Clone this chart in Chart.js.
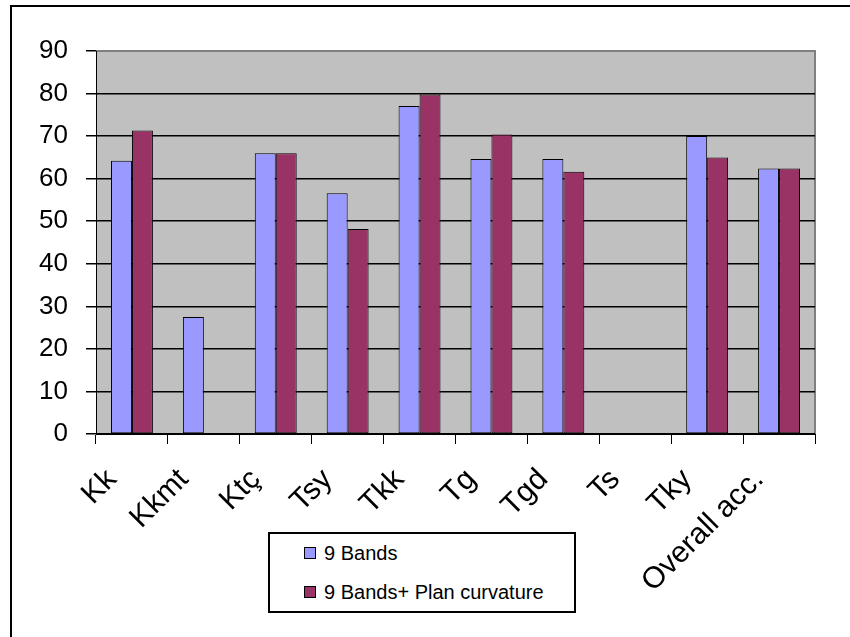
<!DOCTYPE html>
<html>
<head>
<meta charset="utf-8">
<script src="https://cdn.jsdelivr.net/npm/chart.js@4/dist/chart.umd.min.js"></script>
<style>
  html, body { margin: 0; padding: 0; background: #fff; }
  #wrap { position: relative; width: 850px; height: 637px; overflow: hidden; background: #fff; }
  #frame { position: absolute; left: 10px; top: 5px; width: 900px; height: 700px;
           border-left: 2px solid #000; border-top: 2px solid #000; box-sizing: border-box; }
  canvas { position: absolute; left: 0; top: 0; }
  #legend { position: absolute; left: 268px; top: 532px; width: 308px; height: 81px;
            border: 2px solid #000; box-sizing: border-box; background: #fff;
            font-family: "Liberation Sans", Arial, sans-serif; font-size: 20px; color: #000; }
  .item { position: absolute; left: 34px; height: 24px; line-height: 24px; white-space: nowrap; }
  .sw { display: inline-block; width: 10px; height: 10px; border: 1px solid #000;
        vertical-align: middle; margin-right: 8px; position: relative; top: -2px; }
</style>
</head>
<body>
<div id="wrap">
  <canvas id="chart" width="850" height="637"></canvas>
  <div id="frame"></div>
  <div id="legend"></div>
</div>
<script>
// Accuracy per class, two band configurations
const categories = ['Kk', 'Kkmt', 'Ktç', 'Tsy', 'Tkk', 'Tg', 'Tgd', 'Ts', 'Tky', 'Overall acc.'];
const bands9 = [64.2, 27.5, 66.0, 56.6, 77.1, 64.6, 64.6, null, 70.0, 62.4];
const bands9Plan = [71.3, null, 66.0, 48.2, 79.8, 70.4, 61.6, null, 65.0, 62.4];
const seriesNames = ['9 Bands', '9 Bands+ Plan curvature'];
const seriesColors = ['#9999FF', '#993366'];
const yTicks = [0, 10, 20, 30, 40, 50, 60, 70, 80, 90];

const FONT = "'Liberation Sans', Arial, sans-serif";

// Grey plot area with a darker edge on top and right
const plotBackground = {
  id: 'plotBackground',
  beforeDraw(chart) {
    const { ctx, chartArea: a } = chart;
    ctx.save();
    ctx.fillStyle = '#C0C0C0';
    ctx.fillRect(a.left, a.top, a.right - a.left, a.bottom - a.top);
    ctx.strokeStyle = '#808080';
    ctx.lineWidth = 2;
    ctx.beginPath();
    ctx.moveTo(a.left, a.top);
    ctx.lineTo(a.right, a.top);
    ctx.lineTo(a.right, a.bottom);
    ctx.stroke();
    ctx.restore();
  }
};

new Chart(document.getElementById('chart'), {
  type: 'bar',
  data: {
    labels: categories,
    datasets: [
      { label: seriesNames[0], data: bands9, backgroundColor: seriesColors[0] },
      { label: seriesNames[1], data: bands9Plan, backgroundColor: seriesColors[1] }
    ].map(d => Object.assign(d, {
      borderColor: '#000', borderWidth: 1, borderSkipped: false,
      categoryPercentage: 0.583, barPercentage: 1
    }))
  },
  options: {
    responsive: false,
    animation: false,
    devicePixelRatio: 1,
    layout: { padding: { top: 51, right: 35, bottom: 0, left: 0 } },
    plugins: { legend: { display: false }, tooltip: { enabled: false } },
    scales: {
      x: {
        grid: { drawOnChartArea: false, drawTicks: true, tickLength: 10, color: '#000', lineWidth: 1 },
        border: { display: true, color: '#000', width: 1 },
        ticks: { minRotation: 45, maxRotation: 45, autoSkip: false, color: '#000',
                 font: { family: FONT, size: 30 }, padding: 18, labelOffset: -20 },
        afterFit(s) { s.height = 203; }
      },
      y: {
        min: 0, max: 90,
        afterBuildTicks(s) { s.ticks = yTicks.map(v => ({ value: v })); },
        grid: {
          color: c => (c.tick && c.tick.value === 90) ? 'rgba(0,0,0,0)' : '#000',
          tickColor: '#000', lineWidth: 1.5, tickLength: 10, drawTicks: true
        },
        border: { display: true, color: '#000', width: 1 },
        ticks: { color: '#000', font: { family: FONT, size: 26 }, padding: 18 },
        afterFit(s) { s.width = 96; }
      }
    }
  },
  plugins: [plotBackground]
});

// Legend box
const legend = document.getElementById('legend');
const legendTops = [7, 46];
seriesNames.forEach((name, i) => {
  const it = document.createElement('div');
  it.className = 'item';
  it.style.top = legendTops[i] + 'px';
  const sw = document.createElement('span');
  sw.className = 'sw';
  sw.style.background = seriesColors[i];
  it.appendChild(sw);
  it.appendChild(document.createTextNode(name));
  legend.appendChild(it);
});
</script>
</body>
</html>
